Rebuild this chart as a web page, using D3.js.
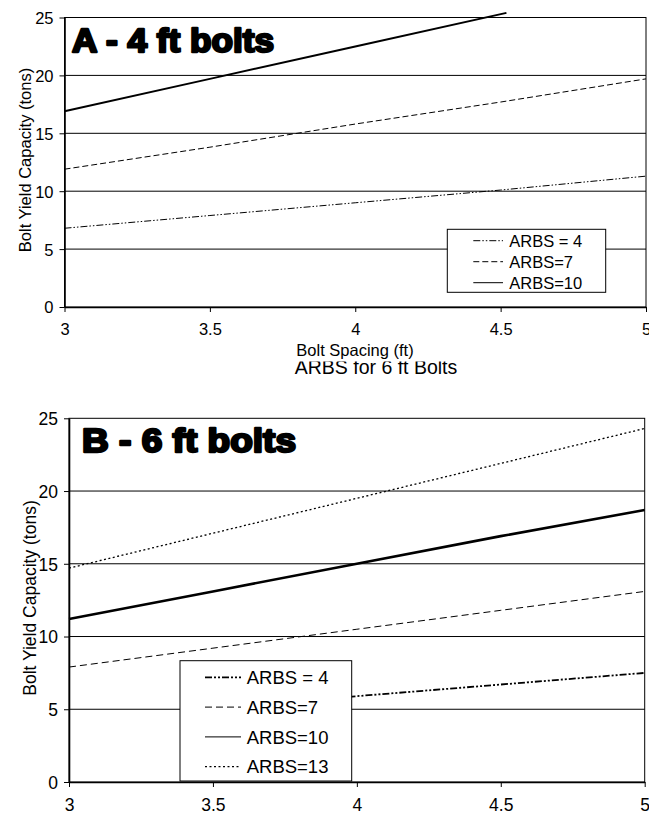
<!DOCTYPE html>
<html>
<head>
<meta charset="utf-8">
<title>ARBS bolt charts</title>
<script src="https://d3js.org/d3.v7.min.js"></script>
<style>
  body { margin: 0; background: #fff; }
  text { font-family: "Liberation Sans", Arial, sans-serif; fill: #000; }
</style>
</head>
<body>
<div id="chart"></div>
<script>
// bolt spacing (ft) on the x axis
const spacing = [3, 3.5, 4, 4.5, 5]
const xTicks = [3, 3.5, 4, 4.5, 5]
const yTicks = [0, 5, 10, 15, 20, 25]

// A - 4 ft bolts
const aArbs4 = [6.8, 7.9, 9.0, 10.1, 11.3]
const aArbs7 = [11.9, 13.8, 15.8, 17.7, 19.7]
const aArbs10Spacing = [3, 3.5, 4, 4.52]
const aArbs10 = [16.9, 19.7, 22.5, 25.4]
const aLegend = ["ARBS = 4", "ARBS=7", "ARBS=10"]

// B - 6 ft bolts
const bArbs4Spacing = [3.5, 4, 4.5, 5]
const bArbs4 = [5.1, 5.9, 6.7, 7.5]
const bArbs7 = [7.9, 9.2, 10.5, 11.8, 13.1]
const bArbs10 = [11.2, 13.1, 15.0, 16.9, 18.7]
const bArbs13 = [14.7, 17.1, 19.5, 21.9, 24.3]
const bLegend = ["ARBS = 4", "ARBS=7", "ARBS=10", "ARBS=13"]

let svg = d3.select("#chart").append("svg")
    .attr("width", 649)
    .attr("height", 816)

let styles = {
    a4:  {dash: "7,2,1.5,2,1.5,2", w: 1},
    a7:  {dash: "6,3", w: 1},
    a10: {dash: null, w: 2},
    b4:  {dash: "7,2,2,2,2,2", w: 1.8},
    b7:  {dash: "7,4", w: 1},
    b10: {dash: null, w: 2.6},
    b13: {dash: "2,2.5", w: 1.3}
}

function drawChart(g, cfg) {
    let x = d3.scaleLinear().domain([3, 5]).range([cfg.left, cfg.right])
    let y = d3.scaleLinear().domain([0, 25]).range([cfg.bottom, cfg.top])

    // plot frame
    g.append("rect")
        .attr("x", cfg.left).attr("y", cfg.top)
        .attr("width", cfg.right - cfg.left)
        .attr("height", cfg.bottom - cfg.top)
        .attr("fill", "#fff").attr("stroke", "#000").attr("stroke-width", 1)

    // gridlines
    g.selectAll(".grid").data(yTicks.slice(1, -1)).enter()
        .append("line")
        .attr("x1", cfg.left).attr("x2", cfg.right)
        .attr("y1", d => y(d)).attr("y2", d => y(d))
        .attr("stroke", "#000").attr("stroke-width", 1)

    let line = d3.line().x(d => x(d[0])).y(d => y(d[1]))
    cfg.series.forEach(s => {
        let pts = s.xs.map((v, i) => [v, s.ys[i]])
        g.append("path")
            .attr("d", line(pts))
            .attr("fill", "none")
            .attr("stroke", "#000")
            .attr("stroke-width", s.st.w)
            .attr("stroke-dasharray", s.st.dash)
    })

    let xAxis = d3.axisBottom(x).tickValues(xTicks).tickSize(5).tickSizeOuter(0)
        .tickFormat(d3.format("~g"))
    let yAxis = d3.axisLeft(y).tickValues(yTicks).tickSize(5).tickSizeOuter(0)

    let gx = g.append("g")
        .attr("transform", "translate(0," + cfg.bottom + ")")
        .call(xAxis)
    let gy = g.append("g")
        .attr("transform", "translate(" + cfg.left + ",0)")
        .call(yAxis)
    ;[gx, gy].forEach(a => {
        a.select(".domain").attr("stroke-width", 1.6)
        a.selectAll("text")
            .attr("font-family", "Liberation Sans, Arial, sans-serif")
            .attr("font-size", cfg.tickSize)
            .attr("fill", "#000")
    })
    gx.selectAll("text").attr("dy", "1.2em")
    gy.selectAll("text").attr("x", -11).attr("dy", "0.36em")

    // y axis title
    g.append("text")
        .attr("transform", "translate(" + cfg.yTitleX + "," + cfg.yTitleY + ") rotate(-90)")
        .attr("text-anchor", "middle")
        .attr("font-size", cfg.labelSize)
        .text("Bolt Yield Capacity (tons)")

    // panel title (heavy face imitated with a stroke)
    g.append("text")
        .attr("x", cfg.titleX).attr("y", cfg.titleY)
        .attr("font-size", 33)
        .attr("font-weight", "bold")
        .attr("stroke", "#000").attr("stroke-width", 2.4)
        .attr("stroke-linejoin", "round")
        .attr("paint-order", "stroke")
        .attr("textLength", cfg.titleLen)
        .attr("lengthAdjust", "spacingAndGlyphs")
        .text(cfg.title)

    // legend
    let lg = g.append("g")
    lg.append("rect")
        .attr("x", cfg.leg.x).attr("y", cfg.leg.y)
        .attr("width", cfg.leg.w).attr("height", cfg.leg.h)
        .attr("fill", "#fff").attr("stroke", "#000").attr("stroke-width", 1)
    cfg.leg.items.forEach((name, i) => {
        let cy = cfg.leg.y + cfg.leg.first + i * cfg.leg.step
        let st = cfg.leg.styles[i]
        lg.append("line")
            .attr("x1", cfg.leg.lx1).attr("x2", cfg.leg.lx2)
            .attr("y1", cy).attr("y2", cy)
            .attr("stroke", "#000")
            .attr("stroke-width", st.w)
            .attr("stroke-dasharray", st.dash)
        lg.append("text")
            .attr("x", cfg.leg.tx).attr("y", cy)
            .attr("dy", "0.36em")
            .attr("font-size", cfg.leg.fs)
            .text(name)
    })
    return {x: x, y: y}
}

// title of the lower chart, partly hidden behind the upper chart
svg.append("text")
    .attr("x", 376).attr("y", 374)
    .attr("text-anchor", "middle")
    .attr("font-size", 19.5)
    .text("ARBS for 6 ft Bolts")

let gB = svg.append("g")
drawChart(gB, {
    left: 69, right: 644.7, top: 418.3, bottom: 782,
    tickSize: 17.5, labelSize: 17.5,
    yTitleX: 36, yTitleY: 598,
    title: "B - 6 ft bolts", titleX: 82, titleY: 452, titleLen: 214,
    series: [
        {xs: bArbs4Spacing, ys: bArbs4, st: styles.b4},
        {xs: spacing, ys: bArbs7, st: styles.b7},
        {xs: spacing, ys: bArbs10, st: styles.b10},
        {xs: spacing, ys: bArbs13, st: styles.b13}
    ],
    leg: {x: 180, y: 660.7, w: 171.7, h: 120.3, first: 16.6, step: 29.8,
          lx1: 205, lx2: 241, tx: 246.7, fs: 18.5, items: bLegend,
          styles: [styles.b4, styles.b7, {dash: null, w: 1}, styles.b13]}
})

// upper chart covers the top of the lower title
let gA = svg.append("g")
gA.append("rect").attr("x", 0).attr("y", 0).attr("width", 649).attr("height", 361.5).attr("fill", "#fff")
drawChart(gA, {
    left: 64.5, right: 646, top: 17.5, bottom: 307,
    tickSize: 16.5, labelSize: 16.5,
    yTitleX: 31, yTitleY: 160,
    title: "A - 4 ft bolts", titleX: 72, titleY: 52, titleLen: 202,
    series: [
        {xs: spacing, ys: aArbs4, st: styles.a4},
        {xs: spacing, ys: aArbs7, st: styles.a7},
        {xs: aArbs10Spacing, ys: aArbs10, st: styles.a10}
    ],
    leg: {x: 447.3, y: 229.3, w: 158.4, h: 63, first: 11.4, step: 21,
          lx1: 473.3, lx2: 503, tx: 509.3, fs: 16.5, items: aLegend,
          styles: [styles.a4, styles.a7, {dash: null, w: 1}]}
})

gA.append("text")
    .attr("x", 355).attr("y", 356)
    .attr("text-anchor", "middle")
    .attr("font-size", 16.5)
    .text("Bolt Spacing (ft)")
</script>
</body>
</html>
